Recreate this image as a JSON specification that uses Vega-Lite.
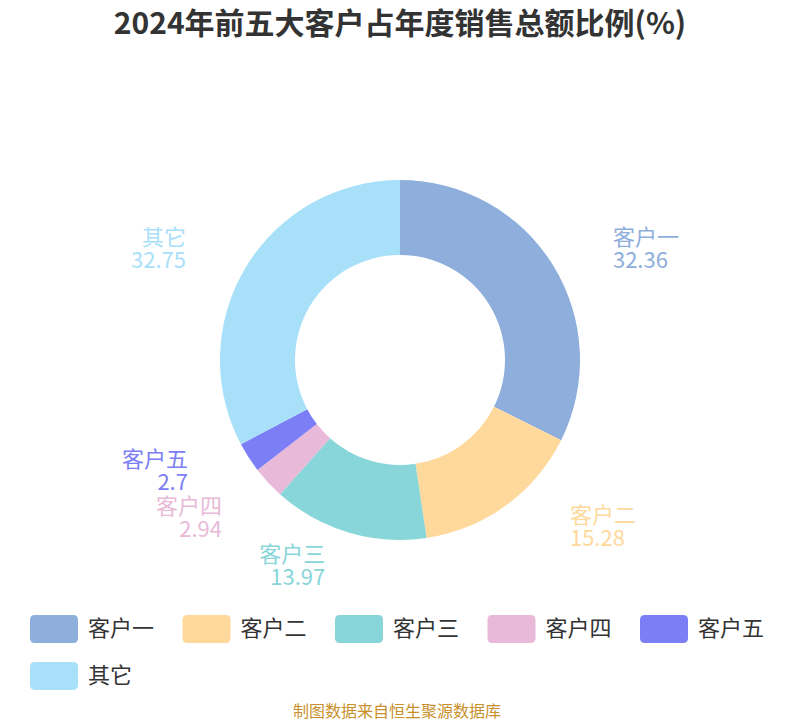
{
  "$schema": "https://vega.github.io/schema/vega-lite/v6.json",
  "width": 800,
  "height": 480,
  "padding": {"top": 10, "left": 0, "right": 0, "bottom": 0},
  "background": "white",
  "config": {
    "font": "Noto Sans CJK SC",
    "view": {"stroke": null}
  },
  "title": {
    "text": "2024年前五大客户占年度销售总额比例(%)",
    "fontSize": 30,
    "fontWeight": "bold",
    "color": "#333333",
    "anchor": "middle",
    "offset": 80
  },
  "data": {
    "values": [
      {"name": "客户一", "value": 32.36},
      {"name": "客户二", "value": 15.28},
      {"name": "客户三", "value": 13.97},
      {"name": "客户四", "value": 2.94},
      {"name": "客户五", "value": 2.7},
      {"name": "其它", "value": 32.75}
    ]
  },
  "transform": [
    {"window": [{"op": "row_number", "as": "rank"}]},
    {"stack": "value", "groupby": [], "sort": [{"field": "rank"}], "as": ["v0", "v1"]},
    {"calculate": "(datum.v0 + datum.v1) / 2", "as": "mid"},
    {"calculate": "datum.name + '\\n' + datum.value", "as": "lab"}
  ],
  "encoding": {
    "color": {
      "field": "name",
      "type": "nominal",
      "scale": {
        "domain": ["客户一", "客户二", "客户三", "客户四", "客户五", "其它"],
        "range": ["#8eaedc", "#fed99b", "#88d6d9", "#e8b9d8", "#7b7ef5", "#a8e0fa"]
      },
      "legend": {
        "title": "制图数据来自恒生聚源数据库",
        "orient": "none",
        "legendX": 30,
        "legendY": 485,
        "direction": "horizontal",
        "columns": 5,
        "symbolType": "M-0.8,-0.58L0.8,-0.58Q1,-0.58 1,-0.38L1,0.38Q1,0.58 0.8,0.58L-0.8,0.58Q-1,0.58 -1,0.38L-1,-0.38Q-1,-0.58 -0.8,-0.58Z",
        "symbolSize": 2304,
        "symbolStrokeWidth": 0,
        "symbolOpacity": 1,
        "labelFontSize": 22,
        "labelColor": "#333333",
        "labelOffset": 10,
        "labelLimit": 200,
        "columnPadding": 27.5,
        "rowPadding": 9,
        "titleOrient": "bottom",
        "titleAnchor": "middle",
        "titleFontSize": 16,
        "titleFontWeight": "normal",
        "titleColor": "#c8902a",
        "titlePadding": 14,
        "titleLimit": 800
      }
    }
  },
  "layer": [
    {
      "mark": {"type": "arc", "outerRadius": 180, "innerRadius": 105},
      "encoding": {
        "theta": {"field": "v0", "type": "quantitative", "scale": {"domain": [0, 100]}},
        "theta2": {"field": "v1"}
      }
    },
    {
      "transform": [{"filter": "datum.name == '客户一'"}],
      "mark": {"type": "text", "radius": 211.6, "dx": 33, "dy": -11, "align": "left", "baseline": "middle", "fontSize": 22, "lineBreak": "\n", "lineHeight": 23},
      "encoding": {"theta": {"field": "mid", "type": "quantitative", "scale": {"domain": [0, 100]}}, "text": {"field": "lab"}}
    },
    {
      "transform": [{"filter": "datum.name == '客户二'"}],
      "mark": {"type": "text", "radius": 206.4, "dx": 48.6, "dy": -11, "align": "left", "baseline": "middle", "fontSize": 22, "lineBreak": "\n", "lineHeight": 23},
      "encoding": {"theta": {"field": "mid", "type": "quantitative", "scale": {"domain": [0, 100]}}, "text": {"field": "lab"}}
    },
    {
      "transform": [{"filter": "datum.name == '客户三'"}],
      "mark": {"type": "text", "radius": 215.5, "dx": -13, "dy": -11, "align": "right", "baseline": "middle", "fontSize": 22, "lineBreak": "\n", "lineHeight": 23},
      "encoding": {"theta": {"field": "mid", "type": "quantitative", "scale": {"domain": [0, 100]}}, "text": {"field": "lab"}}
    },
    {
      "transform": [{"filter": "datum.name == '客户四'"}],
      "mark": {"type": "text", "radius": 232.7, "dx": -7.6, "dy": -11, "align": "right", "baseline": "middle", "fontSize": 22, "lineBreak": "\n", "lineHeight": 23},
      "encoding": {"theta": {"field": "mid", "type": "quantitative", "scale": {"domain": [0, 100]}}, "text": {"field": "lab"}}
    },
    {
      "transform": [{"filter": "datum.name == '客户五'"}],
      "mark": {"type": "text", "radius": 205.8, "dx": -39, "dy": -11, "align": "right", "baseline": "middle", "fontSize": 22, "lineBreak": "\n", "lineHeight": 23},
      "encoding": {"theta": {"field": "mid", "type": "quantitative", "scale": {"domain": [0, 100]}}, "text": {"field": "lab"}}
    },
    {
      "transform": [{"filter": "datum.name == '其它'"}],
      "mark": {"type": "text", "radius": 216, "dx": -29, "dy": -11, "align": "right", "baseline": "middle", "fontSize": 22, "lineBreak": "\n", "lineHeight": 23},
      "encoding": {"theta": {"field": "mid", "type": "quantitative", "scale": {"domain": [0, 100]}}, "text": {"field": "lab"}}
    }
  ]
}
